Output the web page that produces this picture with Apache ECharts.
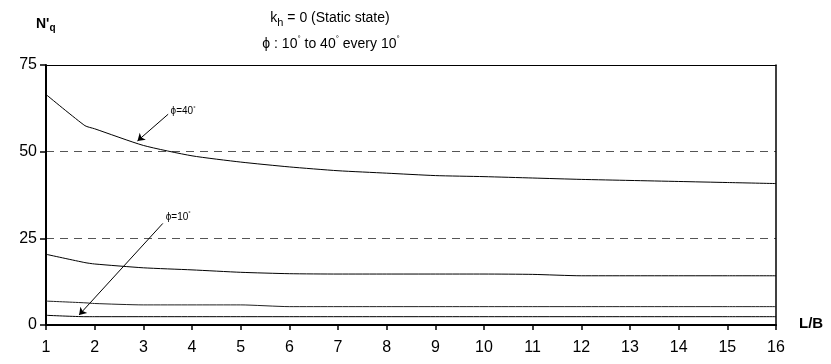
<!DOCTYPE html>
<html>
<head>
<meta charset="utf-8">
<script src="https://cdn.jsdelivr.net/npm/echarts@6/dist/echarts.min.js"></script>
<style>html,body{margin:0;padding:0;background:#fff}#c{width:831px;height:364px}</style>
</head>
<body>
<div id="c"></div>
<script>
// Data
const lb = [1, 1.8, 2, 3, 4, 5, 6, 7, 8, 9, 10, 11, 12, 13, 14, 15, 16];
const phi40 = [66.5, 57.5, 56.6, 51.8, 48.8, 47.0, 45.6, 44.5, 43.8, 43.1, 42.8, 42.4, 42.0, 41.7, 41.4, 41.1, 40.8];
const phi30 = [20.4, 18.0, 17.6, 16.5, 15.9, 15.2, 14.8, 14.7, 14.7, 14.7, 14.7, 14.6, 14.2, 14.2, 14.2, 14.2, 14.2];
const phi20 = [6.9, 6.4, 6.2, 5.8, 5.8, 5.8, 5.3, 5.3, 5.3, 5.3, 5.3, 5.3, 5.3, 5.3, 5.3, 5.3, 5.3];
const phi10 = [2.8, 2.4, 2.4, 2.4, 2.4, 2.4, 2.4, 2.4, 2.4, 2.4, 2.4, 2.4, 2.4, 2.4, 2.4, 2.4, 2.4];
const xTicks = [1,2,3,4,5,6,7,8,9,10,11,12,13,14,15,16];
const yTicks = [0,25,50,75];

const FONT = '"Liberation Sans", Arial, sans-serif';
const pair = (arr) => lb.map((x, i) => [x, arr[i]]);

const lineSeries = (name, arr, extra) => Object.assign({
  name, type: 'line', data: pair(arr), showSymbol: false, symbol: 'none', smooth: 0.2,
  lineStyle: { color: '#000', width: 1 }, z: 5, animation: false
}, extra || {});

const degRich = {
  t: { fontFamily: FONT, fontSize: 10, fontWeight: 'normal', color: '#000' },
  s: { fontFamily: FONT, fontSize: 6, fontWeight: 'normal', color: '#000', padding: [0,0,6,0] }
};

const arrowLine = (from, to) => ({
  silent: true, symbol: ['none', 'arrow'], symbolSize: 7,
  lineStyle: { color: '#000', width: 1, type: 'solid' }, label: { show: false },
  data: [[{ coord: from }, { coord: to }]]
});
const tag = (text, at) => ({
  silent: true, symbol: 'circle', symbolSize: 1, itemStyle: { color: 'rgba(0,0,0,0)' },
  label: { show: true, position: 'right', distance: 0, formatter: text, rich: degRich },
  data: [{ coord: at }]
});

const chart = echarts.init(document.getElementById('c'), null, { renderer: 'canvas' });
chart.setOption({
  animation: false,
  backgroundColor: '#fff',
  grid: { left: 46, right: 55, top: 65, bottom: 39, containLabel: false },
  title: [
    {
      text: '{a|k}{b|h}{a| = 0 (Static state)}',
      left: 325, top: 4, textAlign: 'center',
      textStyle: { fontWeight: 'normal', rich: {
        a: { fontFamily: FONT, fontSize: 14, fontWeight: 'normal', color: '#000' },
        b: { fontFamily: FONT, fontSize: 11, fontWeight: 'normal', color: '#000', padding: [8,0,0,0] }
      } }
    },
    {
      text: '{a|ϕ : 10}{s|°}{a| to 40}{s|°}{a| every 10}{s|°}',
      left: 326, top: 30, textAlign: 'center',
      textStyle: { fontWeight: 'normal', rich: {
        a: { fontFamily: FONT, fontSize: 14, fontWeight: 'normal', color: '#000' },
        s: { fontFamily: FONT, fontSize: 8, fontWeight: 'normal', color: '#000', padding: [0,0,10,0] }
      } }
    },
    {
      text: "{a|N'}{b|q}",
      left: 31, top: 10,
      textStyle: { rich: {
        a: { fontFamily: FONT, fontSize: 14, fontWeight: 'bold', color: '#000' },
        b: { fontFamily: FONT, fontSize: 10, fontWeight: 'bold', color: '#000', padding: [8,0,0,0] }
      } }
    },
    {
      text: 'L/B', left: 794, top: 311,
      textStyle: { fontFamily: FONT, fontSize: 15, fontWeight: 'bold', color: '#000' }
    }
  ],
  xAxis: [
    {
      type: 'value', min: 1, max: 16, interval: 1,
      axisLine: { show: true, onZero: false, lineStyle: { color: '#000', width: 2 } },
      axisTick: { show: true, inside: false, length: 5, lineStyle: { color: '#000', width: 1.5 } },
      axisLabel: { color: '#000', fontFamily: FONT, fontSize: 16, margin: 15 },
      splitLine: { show: false }
    },
    {
      type: 'value', min: 1, max: 16, interval: 1, position: 'top',
      axisLine: { show: true, onZero: false, lineStyle: { color: '#000', width: 1 } },
      axisTick: { show: false }, axisLabel: { show: false }, splitLine: { show: false }
    }
  ],
  yAxis: [
    {
      type: 'value', min: 0, max: 75, interval: 25,
      axisLine: { show: true, onZero: false, lineStyle: { color: '#000', width: 2 } },
      axisTick: { show: true, inside: false, length: 6, lineStyle: { color: '#000', width: 1.5 } },
      axisLabel: { color: '#000', fontFamily: FONT, fontSize: 16, margin: 9 },
      splitLine: { show: true, lineStyle: { color: '#555', width: 1, type: [8, 6] } }
    },
    {
      type: 'value', min: 0, max: 75, interval: 25, position: 'right',
      axisLine: { show: true, onZero: false, lineStyle: { color: '#000', width: 1.5 } },
      axisTick: { show: false }, axisLabel: { show: false }, splitLine: { show: false }
    }
  ],
  series: [
    lineSeries('phi40', phi40, {
      markLine: arrowLine([3.51, 60.8], [2.88, 53.1]),
      markPoint: tag('{t|ϕ=40}{s|°}', [3.55, 61.6])
    }),
    lineSeries('phi30', phi30),
    lineSeries('phi20', phi20, { lineStyle: { color: '#222', width: 1 } }),
    lineSeries('phi10', phi10, {
      markLine: arrowLine([3.40, 29.3], [1.68, 2.9]),
      markPoint: tag('{t|ϕ=10}{s|°}', [3.45, 31.2])
    })
  ]
});
</script>
</body>
</html>
